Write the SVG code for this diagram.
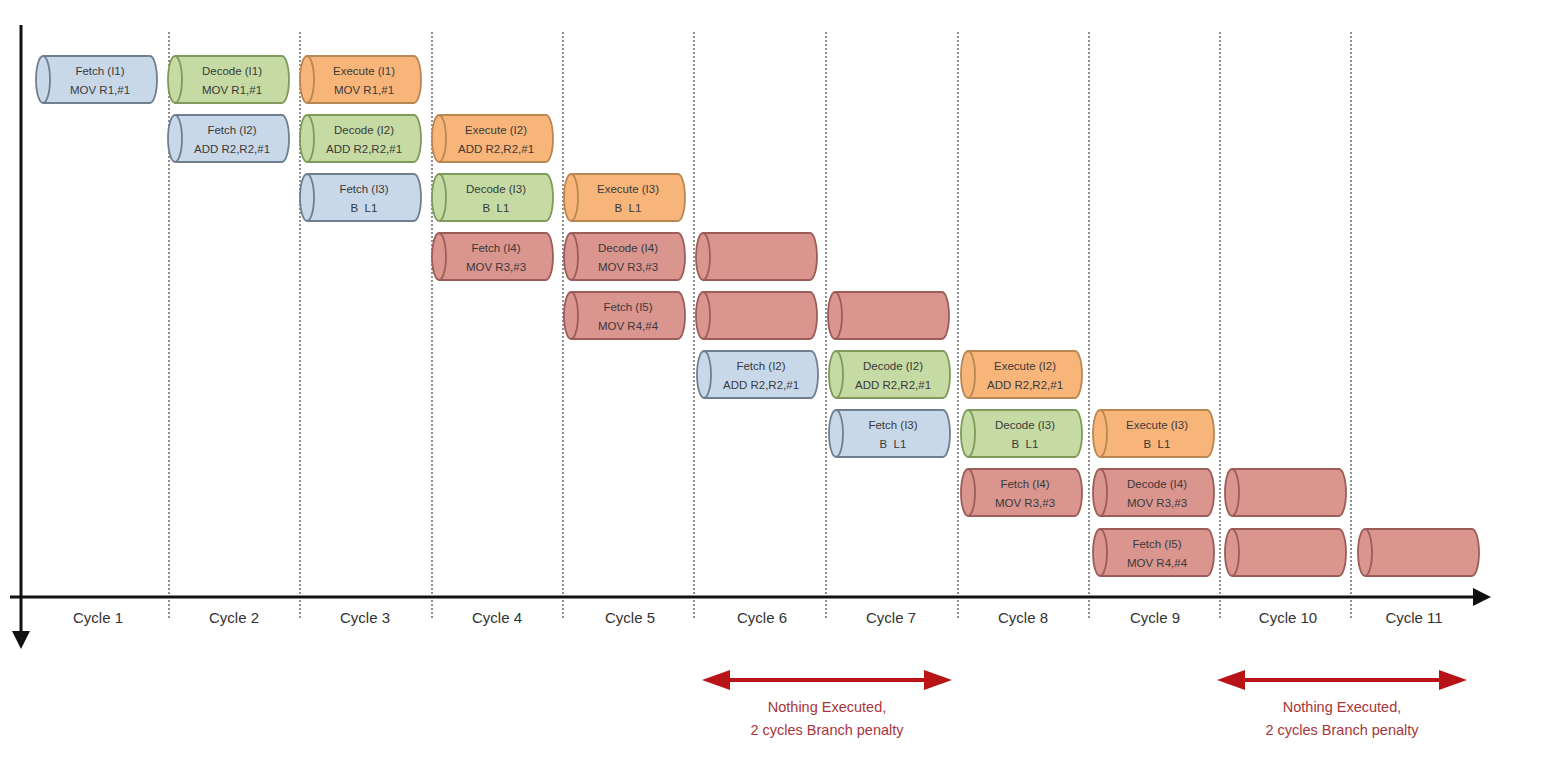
<svg xmlns="http://www.w3.org/2000/svg" xmlns:xlink="http://www.w3.org/1999/xlink" width="1553" height="778" viewBox="0 0 1553 778">
<style>
.t{font-family:"Liberation Sans",Arial,sans-serif;font-size:11.5px;fill:#3a3a3a;stroke:none;text-anchor:middle;white-space:pre}
.cy{font-family:"Liberation Sans",Arial,sans-serif;font-size:15px;fill:#333;text-anchor:middle}
.note{font-family:"Liberation Sans",Arial,sans-serif;font-size:14.5px;fill:#a8353a;text-anchor:middle}
.blue{fill:#c9d8e9;stroke:#6f7f90}
.green{fill:#c5dba3;stroke:#7f9a5a}
.orange{fill:#f8b57a;stroke:#b98752}
.red{fill:#db958f;stroke:#9c5c58}
.node use{stroke-width:1.8}
.div{stroke:#555;stroke-width:1.3;stroke-dasharray:2 2}
.axis{stroke:#111;stroke-width:3;fill:none}
.pen{stroke:#b81418;stroke-width:4;fill:none}
</style>
<defs>
<path id="cyl" d="M7,0 H114 A7,23.5 0 0 1 114,47 H7 A7,23.5 0 0 1 7,0 Z"/>
<path id="cin" d="M7,0 A7,23.5 0 0 1 7,47" fill="none"/>
<marker id="ah" markerWidth="6" markerHeight="6" refX="1" refY="3" orient="auto" markerUnits="strokeWidth"><path d="M0,0 L6,3 L0,6 Z" fill="#111"/></marker>
<marker id="rh" markerWidth="7" markerHeight="5" refX="1" refY="2.5" orient="auto-start-reverse" markerUnits="strokeWidth"><path d="M0,0 L7,2.5 L0,5 Z" fill="#b81418"/></marker>
</defs>

<g id="dividers">
<line class="div" x1="169" y1="32" x2="169" y2="620"/>
<line class="div" x1="300" y1="32" x2="300" y2="620"/>
<line class="div" x1="432" y1="32" x2="432" y2="620"/>
<line class="div" x1="563" y1="32" x2="563" y2="620"/>
<line class="div" x1="694" y1="32" x2="694" y2="620"/>
<line class="div" x1="826" y1="32" x2="826" y2="620"/>
<line class="div" x1="958" y1="32" x2="958" y2="620"/>
<line class="div" x1="1089" y1="32" x2="1089" y2="620"/>
<line class="div" x1="1220" y1="32" x2="1220" y2="620"/>
<line class="div" x1="1351" y1="32" x2="1351" y2="620"/>
</g>

<g id="axes">
<line class="axis" x1="21" y1="25" x2="21" y2="634" marker-end="url(#ah)"/>
<line class="axis" x1="10" y1="597" x2="1476" y2="597" marker-end="url(#ah)"/>
</g>

<g id="n1" class="node blue" transform="translate(36,56)"><use href="#cyl"/><use href="#cin"/><text class="t" x="64" y="19">Fetch (I1)</text><text class="t" x="64" y="38">MOV R1,#1</text></g>
<g id="n2" class="node green" transform="translate(168,56)"><use href="#cyl"/><use href="#cin"/><text class="t" x="64" y="19">Decode (I1)</text><text class="t" x="64" y="38">MOV R1,#1</text></g>
<g id="n3" class="node orange" transform="translate(300,56)"><use href="#cyl"/><use href="#cin"/><text class="t" x="64" y="19">Execute (I1)</text><text class="t" x="64" y="38">MOV R1,#1</text></g>

<g id="n4" class="node blue" transform="translate(168,115)"><use href="#cyl"/><use href="#cin"/><text class="t" x="64" y="19">Fetch (I2)</text><text class="t" x="64" y="38">ADD R2,R2,#1</text></g>
<g id="n5" class="node green" transform="translate(300,115)"><use href="#cyl"/><use href="#cin"/><text class="t" x="64" y="19">Decode (I2)</text><text class="t" x="64" y="38">ADD R2,R2,#1</text></g>
<g id="n6" class="node orange" transform="translate(432,115)"><use href="#cyl"/><use href="#cin"/><text class="t" x="64" y="19">Execute (I2)</text><text class="t" x="64" y="38">ADD R2,R2,#1</text></g>

<g id="n7" class="node blue" transform="translate(300,174)"><use href="#cyl"/><use href="#cin"/><text class="t" x="64" y="19">Fetch (I3)</text><text class="t" x="64" y="38">B  L1</text></g>
<g id="n8" class="node green" transform="translate(432,174)"><use href="#cyl"/><use href="#cin"/><text class="t" x="64" y="19">Decode (I3)</text><text class="t" x="64" y="38">B  L1</text></g>
<g id="n9" class="node orange" transform="translate(564,174)"><use href="#cyl"/><use href="#cin"/><text class="t" x="64" y="19">Execute (I3)</text><text class="t" x="64" y="38">B  L1</text></g>

<g id="n10" class="node red" transform="translate(432,233)"><use href="#cyl"/><use href="#cin"/><text class="t" x="64" y="19">Fetch (I4)</text><text class="t" x="64" y="38">MOV R3,#3</text></g>
<g id="n11" class="node red" transform="translate(564,233)"><use href="#cyl"/><use href="#cin"/><text class="t" x="64" y="19">Decode (I4)</text><text class="t" x="64" y="38">MOV R3,#3</text></g>
<g id="n12" class="node red" transform="translate(696,233)"><use href="#cyl"/><use href="#cin"/></g>

<g id="n13" class="node red" transform="translate(564,292)"><use href="#cyl"/><use href="#cin"/><text class="t" x="64" y="19">Fetch (I5)</text><text class="t" x="64" y="38">MOV R4,#4</text></g>
<g id="n14" class="node red" transform="translate(696,292)"><use href="#cyl"/><use href="#cin"/></g>
<g id="n15" class="node red" transform="translate(828,292)"><use href="#cyl"/><use href="#cin"/></g>

<g id="n16" class="node blue" transform="translate(697,351)"><use href="#cyl"/><use href="#cin"/><text class="t" x="64" y="19">Fetch (I2)</text><text class="t" x="64" y="38">ADD R2,R2,#1</text></g>
<g id="n17" class="node green" transform="translate(829,351)"><use href="#cyl"/><use href="#cin"/><text class="t" x="64" y="19">Decode (I2)</text><text class="t" x="64" y="38">ADD R2,R2,#1</text></g>
<g id="n18" class="node orange" transform="translate(961,351)"><use href="#cyl"/><use href="#cin"/><text class="t" x="64" y="19">Execute (I2)</text><text class="t" x="64" y="38">ADD R2,R2,#1</text></g>

<g id="n19" class="node blue" transform="translate(829,410)"><use href="#cyl"/><use href="#cin"/><text class="t" x="64" y="19">Fetch (I3)</text><text class="t" x="64" y="38">B  L1</text></g>
<g id="n20" class="node green" transform="translate(961,410)"><use href="#cyl"/><use href="#cin"/><text class="t" x="64" y="19">Decode (I3)</text><text class="t" x="64" y="38">B  L1</text></g>
<g id="n21" class="node orange" transform="translate(1093,410)"><use href="#cyl"/><use href="#cin"/><text class="t" x="64" y="19">Execute (I3)</text><text class="t" x="64" y="38">B  L1</text></g>

<g id="n22" class="node red" transform="translate(961,469)"><use href="#cyl"/><use href="#cin"/><text class="t" x="64" y="19">Fetch (I4)</text><text class="t" x="64" y="38">MOV R3,#3</text></g>
<g id="n23" class="node red" transform="translate(1093,469)"><use href="#cyl"/><use href="#cin"/><text class="t" x="64" y="19">Decode (I4)</text><text class="t" x="64" y="38">MOV R3,#3</text></g>
<g id="n24" class="node red" transform="translate(1225,469)"><use href="#cyl"/><use href="#cin"/></g>

<g id="n25" class="node red" transform="translate(1093,529)"><use href="#cyl"/><use href="#cin"/><text class="t" x="64" y="19">Fetch (I5)</text><text class="t" x="64" y="38">MOV R4,#4</text></g>
<g id="n26" class="node red" transform="translate(1225,529)"><use href="#cyl"/><use href="#cin"/></g>
<g id="n27" class="node red" transform="translate(1358,529)"><use href="#cyl"/><use href="#cin"/></g>

<g id="cycles">
<text class="cy" x="98" y="623">Cycle 1</text>
<text class="cy" x="234" y="623">Cycle 2</text>
<text class="cy" x="365" y="623">Cycle 3</text>
<text class="cy" x="497" y="623">Cycle 4</text>
<text class="cy" x="630" y="623">Cycle 5</text>
<text class="cy" x="762" y="623">Cycle 6</text>
<text class="cy" x="891" y="623">Cycle 7</text>
<text class="cy" x="1023" y="623">Cycle 8</text>
<text class="cy" x="1155" y="623">Cycle 9</text>
<text class="cy" x="1288" y="623">Cycle 10</text>
<text class="cy" x="1414" y="623">Cycle 11</text>
</g>

<g id="connectors">
<line class="pen" x1="726" y1="680" x2="928" y2="680" marker-start="url(#rh)" marker-end="url(#rh)"/>
<line class="pen" x1="1241" y1="680" x2="1443" y2="680" marker-start="url(#rh)" marker-end="url(#rh)"/>
</g>

<g id="penalty1">
<text class="note" x="827" y="712">Nothing Executed,</text>
<text class="note" x="827" y="735">2 cycles Branch penalty</text>
</g>
<g id="penalty2">
<text class="note" x="1342" y="712">Nothing Executed,</text>
<text class="note" x="1342" y="735">2 cycles Branch penalty</text>
</g>
</svg>
